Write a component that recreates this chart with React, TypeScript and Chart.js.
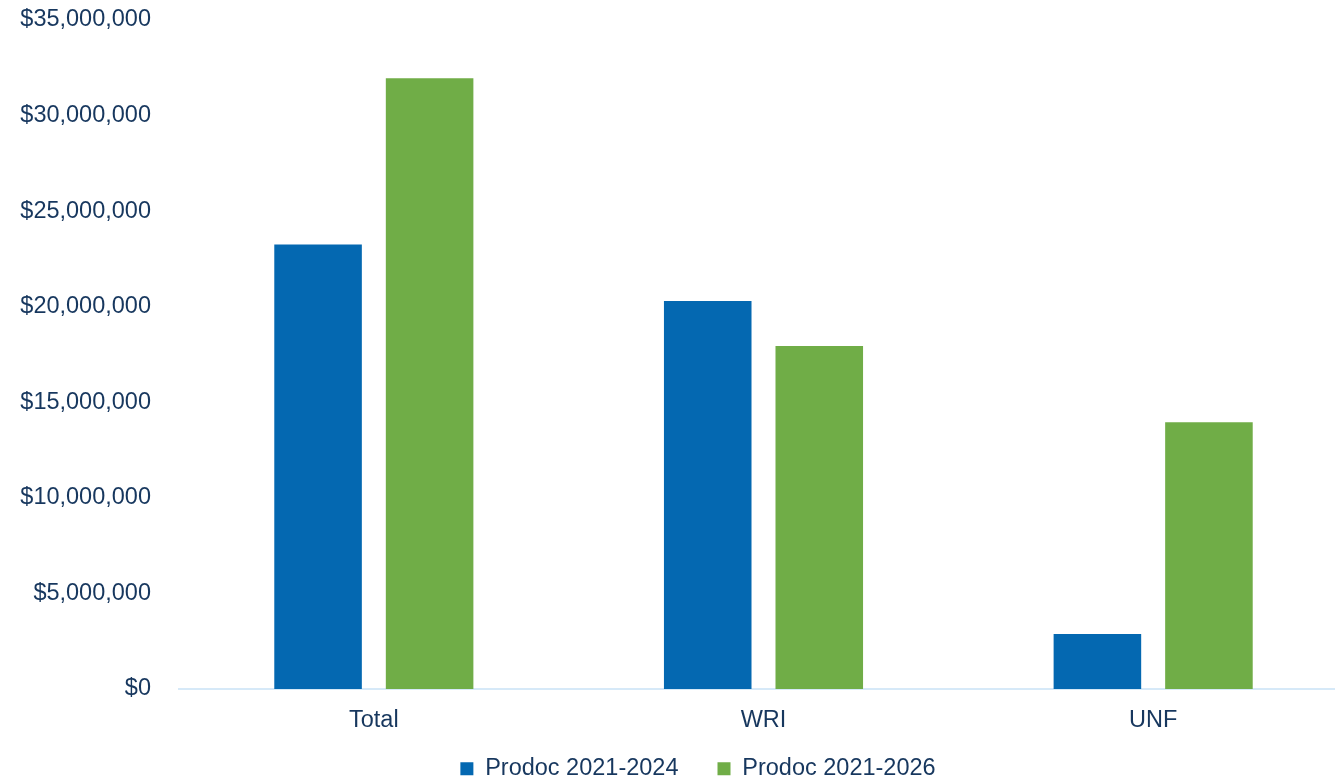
import React, { useEffect, useRef } from "react";
import { Chart, registerables } from "chart.js";

Chart.register(...registerables);

const categories = ["Total", "WRI", "UNF"];
const seriesNames = ["Prodoc 2021-2024", "Prodoc 2021-2026"];
const prodoc2024 = [23250000, 20300000, 2880000];
const prodoc2026 = [31950000, 17950000, 13950000];
const yTicks = [0, 5000000, 10000000, 15000000, 20000000, 25000000, 30000000, 35000000];

const TEXT = "#17375E";
const FONT = "'Liberation Sans', Arial, sans-serif";

const legendPlace = {
  id: "legendPlace",
  afterLayout(chart: any) {
    const lg = chart.legend;
    if (lg) {
      const h = lg.bottom - lg.top;
      lg.top = 718;
      lg.bottom = lg.top + h;
      lg.left += 24;
      lg.right += 24;
    }
  },
};

export default function App() {
  const ref = useRef<HTMLCanvasElement | null>(null);
  useEffect(() => {
    document.body.style.margin = "0";
    const ctx = ref.current!;
    const chart = new Chart(ctx, {
      type: "bar",
      data: {
        labels: categories,
        datasets: [
          {
            label: seriesNames[0],
            data: prodoc2024,
            backgroundColor: "#0468B1",
            categoryPercentage: 0.5725,
            barPercentage: 0.785,
          },
          {
            label: seriesNames[1],
            data: prodoc2026,
            backgroundColor: "#70AD47",
            categoryPercentage: 0.5725,
            barPercentage: 0.785,
          },
        ],
      },
      plugins: [legendPlace],
      options: {
        animation: false,
        responsive: false,
        maintainAspectRatio: false,
        layout: { padding: { left: 0, right: 0, top: 20, bottom: 0 } },
        plugins: {
          tooltip: { enabled: false },
          legend: {
            position: "bottom",
            align: "center",
            labels: {
              boxWidth: 13,
              boxHeight: 13,
              padding: 39,
              color: TEXT,
              font: { family: FONT, size: 23.5 },
            },
          },
        },
        scales: {
          x: {
            grid: { display: false, drawTicks: false },
            border: { display: true, color: "#D6E9F8", width: 2 },
            ticks: {
              color: TEXT,
              padding: 17,
              font: { family: FONT, size: 23.5 },
            },
            afterFit(scale: any) {
              scale.height = 50.5;
            },
          },
          y: {
            min: 0,
            max: 35000000,
            grid: { display: false, drawTicks: false },
            border: { display: false },
            afterBuildTicks(scale: any) {
              scale.ticks = yTicks.map((v) => ({ value: v }));
            },
            ticks: {
              color: TEXT,
              padding: 28,
              font: { family: FONT, size: 23.5 },
              callback: (v: any) => "$" + Number(v).toLocaleString("en-US"),
            },
            afterFit(scale: any) {
              scale.width = 179;
              scale.paddingTop = 0;
              scale.paddingBottom = 0;
            },
          },
        },
      },
    });
    return () => chart.destroy();
  }, []);
  return (
    <div style={{ width: 1335, height: 781, overflow: "hidden" }}>
      <canvas ref={ref} width={1348} height={812} style={{ display: "block", width: 1348, height: 812 }} />
    </div>
  );
}
